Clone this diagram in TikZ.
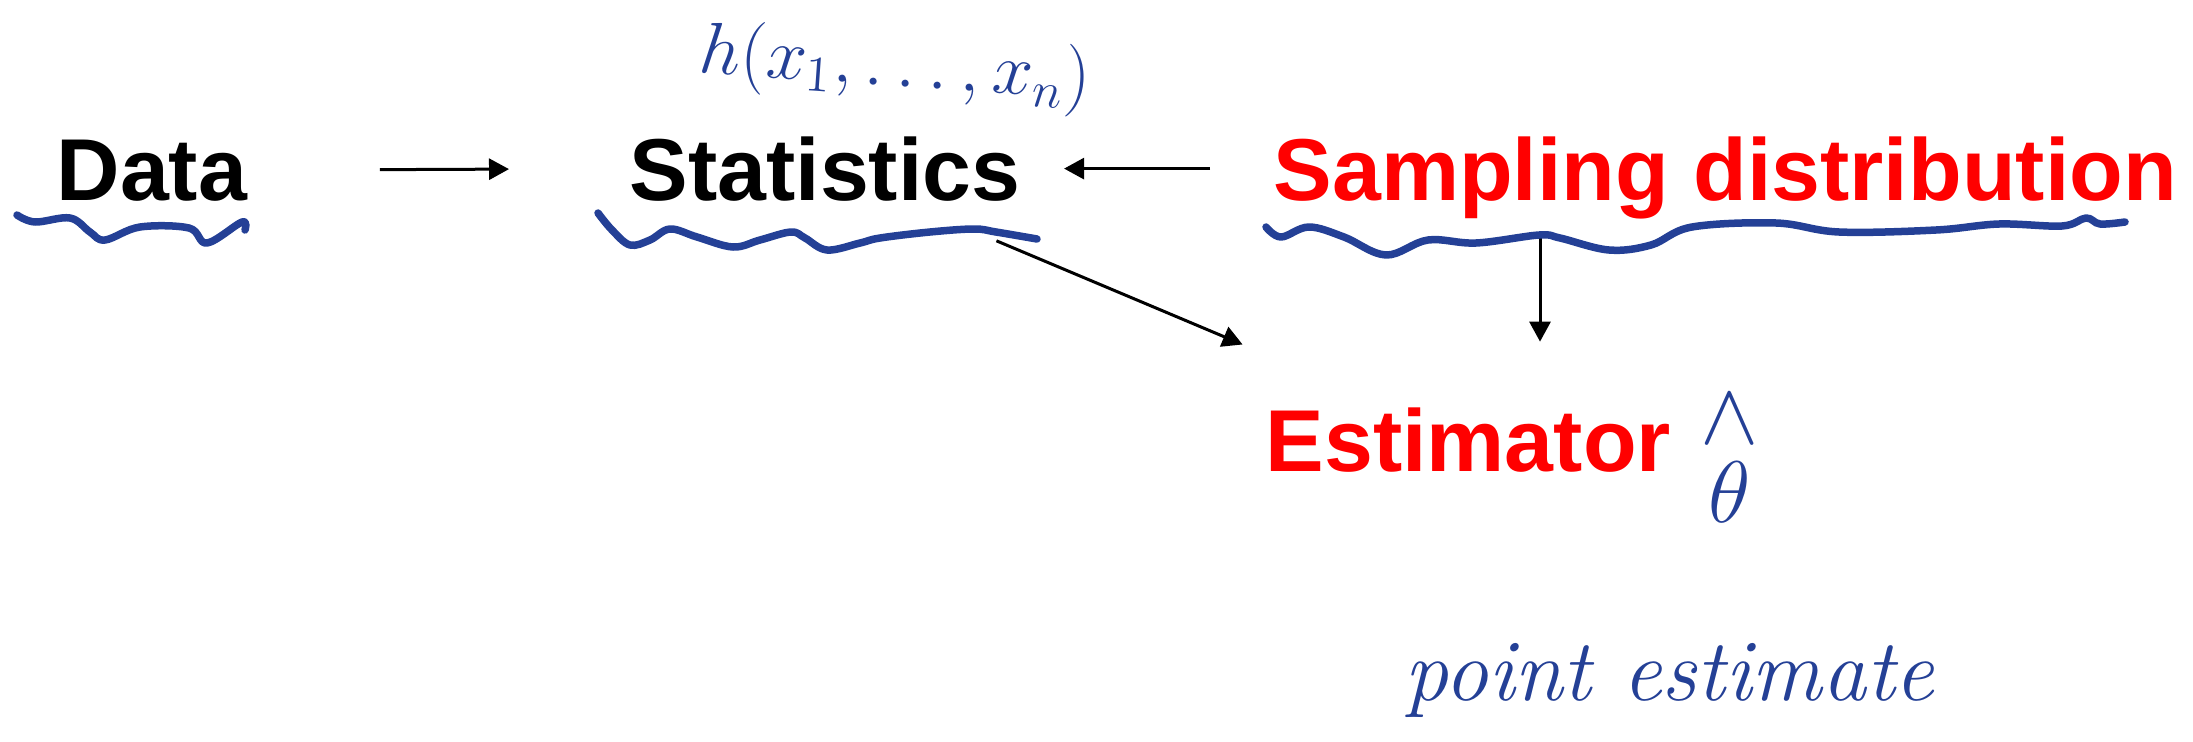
\documentclass[tikz,border=0pt]{standalone}
\usepackage{amsmath}
\usepackage{fontspec}
\newfontfamily\arialbf{Liberation Sans}
\usepackage{tikz}
\usetikzlibrary{arrows.meta,calc}
\definecolor{penblue}{RGB}{36,64,150}
\tikzset{
  term/.style  ={inner sep=0pt,font=\arialbf\bfseries\fontsize{25}{30}\selectfont},
  termK/.style ={term,text=black},
  termR/.style ={term,text=red},
  arr/.style   ={-{Triangle[length=2mm,width=2.1mm]},draw=black,line width=0.3mm},
  pen/.style   ={draw=penblue,line width=0.75mm,line cap=round,line join=round},
  note/.style  ={text=penblue,inner sep=0pt},
}

\begin{document}
\begin{tikzpicture}[
  x=0.1mm, y=-0.1mm,
]
\useasboundingbox (0,0) rectangle (2193,741);

%% ---------------- terms ----------------
\node[termK,anchor=base west] (data) at (56,200)   {Data};
\node[termK,anchor=base west] (stat) at (629,200)  {Statistics};
\node[termR,anchor=base west] (samp) at (1273,200) {Sampling distribution};
\node[termR,anchor=base west] (est)  at (1265,471) {Estimator};

%% ---------------- hand notes ----------------
\node[note,rotate=-4,font=\fontsize{20}{24}\selectfont] (hx) at (895,68) {$h(x_1,\dots,x_n)$};
\node[note,anchor=base,font=\fontsize{25}{30}\selectfont] (th) at (1730,522)
  {$\overset{\textstyle\wedge}{\theta}$};
\node[note,anchor=base west,font=\itshape\fontsize{25}{30}\selectfont] (pe) at (1404,700) {point estimate};

%% ---------------- arrows ----------------
\draw[arr,shorten <=13.2mm,shorten >=12mm] (data.east) -- (stat.west);
\draw[arr,shorten <=6.3mm,shorten >=4.3mm] (stat.east -| samp.west) -- (stat.east);
\draw[arr,shorten <=18.6mm,shorten >=24.5mm] (stat.center) -- (est.center);
\coordinate (sdfoot) at (1540,235);
\draw[arr,shorten >=6.5mm] (sdfoot) -- (sdfoot |- est.north);

%% ---------------- wavy underlines ----------------
\draw[pen] plot[smooth,tension=0.6] coordinates {(17,215) (35,222) (70,218) (90,232) (105,240)
  (140,227) (189,228) (207,243) (242,222) (245,230)};
\draw[pen] plot[smooth,tension=0.6] coordinates {(598,213) (612,230) (630,245) (650,240) (670,229)
  (697,237) (733,247) (760,240) (791,232) (805,238) (827,250) (860,243) (880,238) (930,232)
  (974,229) (996,232) (1037,239)};
\draw[pen] plot[smooth,tension=0.6] coordinates {(1266,227) (1281,237) (1309,227) (1344,237)
  (1386,255) (1428,240) (1476,243) (1539,235) (1560,238) (1609,250) (1651,245) (1692,227)
  (1776,223) (1839,232) (1936,230) (1999,224) (2062,226) (2086,218) (2100,224) (2125,222)};

\end{tikzpicture}
\end{document}
